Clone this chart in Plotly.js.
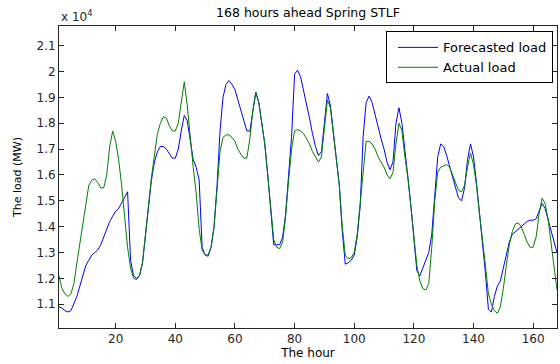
<!DOCTYPE html>
<html>
<head>
<meta charset="utf-8">
<script src="https://cdn.plot.ly/plotly-3.0.1.min.js"></script>
<style>html,body{margin:0;padding:0;background:#fff;}#chart{width:560px;height:364px;}</style>
</head>
<body>
<div id="chart"></div>
<script>
// hours 1..168
const hours = [];
for (let h = 1; h <= 168; h++) hours.push(h);

// Forecasted load (x 10^4 MW)
const forecast = [
1.09,1.085,1.075,1.07,1.075,1.10,1.13,1.17,1.21,1.25,
1.27,1.29,1.30,1.31,1.33,1.36,1.39,1.42,1.44,1.46,
1.47,1.49,1.51,1.535,1.27,1.21,1.20,1.21,1.26,1.36,
1.48,1.58,1.65,1.69,1.71,1.71,1.70,1.68,1.665,1.665,
1.70,1.77,1.83,1.81,1.74,1.66,1.63,1.58,1.32,1.29,
1.29,1.32,1.40,1.56,1.77,1.90,1.95,1.965,1.95,1.93,
1.89,1.85,1.80,1.77,1.77,1.85,1.92,1.88,1.80,1.72,
1.60,1.45,1.33,1.33,1.33,1.36,1.45,1.60,1.75,1.99,
2.005,1.98,1.93,1.88,1.82,1.76,1.71,1.675,1.69,1.80,
1.915,1.87,1.76,1.67,1.56,1.38,1.255,1.26,1.27,1.29,
1.36,1.48,1.75,1.88,1.905,1.88,1.83,1.79,1.74,1.70,
1.65,1.62,1.65,1.80,1.86,1.80,1.68,1.59,1.48,1.36,
1.23,1.21,1.24,1.27,1.30,1.37,1.52,1.67,1.72,1.71,
1.675,1.63,1.59,1.55,1.51,1.50,1.55,1.66,1.72,1.67,
1.57,1.45,1.36,1.22,1.08,1.07,1.13,1.17,1.19,1.24,
1.30,1.34,1.37,1.38,1.39,1.40,1.41,1.42,1.425,1.425,
1.43,1.46,1.49,1.47,1.43,1.39,1.34,1.30
];

// Actual load (x 10^4 MW)
const actual = [
1.21,1.16,1.14,1.13,1.14,1.18,1.26,1.34,1.42,1.50,
1.56,1.58,1.585,1.57,1.55,1.55,1.60,1.71,1.77,1.73,
1.66,1.56,1.44,1.32,1.24,1.20,1.195,1.21,1.26,1.36,
1.48,1.59,1.68,1.76,1.80,1.825,1.82,1.79,1.77,1.77,
1.80,1.88,1.96,1.87,1.74,1.63,1.53,1.39,1.31,1.29,
1.285,1.32,1.40,1.53,1.69,1.745,1.755,1.755,1.745,1.73,
1.70,1.68,1.665,1.665,1.74,1.85,1.92,1.88,1.80,1.72,
1.60,1.46,1.35,1.32,1.315,1.34,1.44,1.58,1.70,1.77,
1.775,1.77,1.76,1.74,1.72,1.69,1.67,1.65,1.67,1.78,
1.89,1.86,1.76,1.67,1.56,1.40,1.29,1.275,1.28,1.30,
1.37,1.49,1.62,1.73,1.73,1.72,1.70,1.67,1.65,1.63,
1.60,1.585,1.61,1.72,1.80,1.77,1.67,1.59,1.48,1.36,
1.25,1.19,1.16,1.155,1.18,1.32,1.50,1.61,1.63,1.635,
1.64,1.63,1.60,1.57,1.54,1.535,1.56,1.63,1.685,1.64,
1.56,1.45,1.36,1.25,1.14,1.10,1.075,1.065,1.09,1.16,
1.25,1.33,1.38,1.41,1.415,1.40,1.37,1.34,1.32,1.32,
1.36,1.45,1.51,1.49,1.43,1.34,1.23,1.155
];

const xTicks = [20,40,60,80,100,120,140,160];
const yTicks = [1.1,1.2,1.3,1.4,1.5,1.6,1.7,1.8,1.9,2.0,2.1];
const seriesNames = ['Forecasted load','Actual load'];

const FONT = 'DejaVu Sans, Arial, sans-serif';

const traces = [
  {x: hours, y: forecast, type: 'scatter', mode: 'lines', name: seriesNames[0],
   line: {color: '#0000ff', width: 1}},
  {x: hours, y: actual, type: 'scatter', mode: 'lines', name: seriesNames[1],
   line: {color: '#008000', width: 1}}
];

const axisCommon = {
  showline: true, linecolor: '#262626', linewidth: 1, mirror: 'ticks',
  ticks: 'inside', ticklen: 5, tickcolor: '#262626', tickwidth: 1,
  showgrid: false, zeroline: false,
  tickfont: {family: FONT, size: 12, color: '#262626'}
};

const layout = {
  width: 560, height: 364,
  margin: {l: 59, r: 3, t: 26, b: 36},
  paper_bgcolor: '#fff', plot_bgcolor: '#fff',
  showlegend: true,
  title: {text: '168 hours ahead Spring STLF', font: {family: FONT, size: 12.5, color: '#000'},
          x: 0.5, xref: 'paper', xanchor: 'center', y: 0.965, yanchor: 'middle'},
  xaxis: Object.assign({}, axisCommon, {
    range: [1, 168], tickvals: xTicks, ticktext: xTicks.map(String),
    title: {text: 'The hour', font: {family: FONT, size: 12, color: '#000'}, standoff: 3}
  }),
  yaxis: Object.assign({}, axisCommon, {
    range: [1.008, 2.176], tickvals: yTicks, ticktext: yTicks.map(v => String(+v.toFixed(1))),
    title: {text: 'The load (MW)', font: {family: FONT, size: 11, color: '#000'}, standoff: 12}
  }),
  legend: {
    x: 0.992, xanchor: 'right', y: 0.982, yanchor: 'top',
    bgcolor: '#fff', bordercolor: '#000', borderwidth: 1,
    font: {family: FONT, size: 13, color: '#000'},
    tracegroupgap: 0, itemwidth: 40, indentation: 6
  },
  annotations: [{
    text: 'x 10<sup>4</sup>', xref: 'paper', yref: 'paper', x: 0, y: 1,
    xanchor: 'left', yanchor: 'bottom', showarrow: false, yshift: 0,
    font: {family: FONT, size: 12, color: '#262626'}
  }]
};

Plotly.newPlot('chart', traces, layout, {displayModeBar: false, staticPlot: true});
</script>
</body>
</html>
